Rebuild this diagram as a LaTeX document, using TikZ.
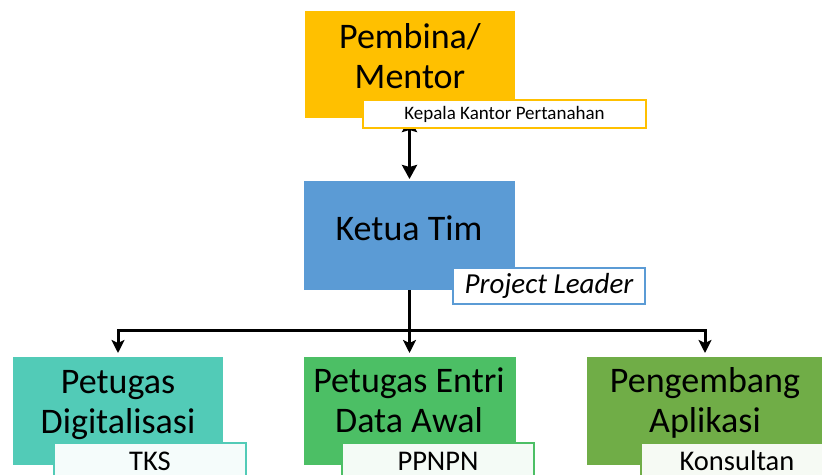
\documentclass[tikz,border=0pt]{standalone}
\usepackage{fontspec}
\setmainfont{Carlito}
\usetikzlibrary{arrows.meta}
\definecolor{cGold}{HTML}{FFC000}
\definecolor{cBlue}{HTML}{5B9BD5}
\definecolor{cTeal}{HTML}{52CBB7}
\definecolor{cGreen}{HTML}{4CBF65}
\definecolor{cOlive}{HTML}{70AD47}
\tikzset{
  box/.style={draw=none, inner sep=0pt, outer sep=0pt, anchor=north west},
  tag/.style={line width=2pt, inner xsep=0pt, outer sep=0pt, fill=white},
  btag/.style={tag, minimum width=192, inner ysep=0pt, text height=27pt, text depth=14pt, anchor=north, font=\fontsize{28.5}{32}\selectfont},
  bigtxt/.style={inner sep=0pt, anchor=base, align=center, font=\fontsize{36}{40}\selectfont},
  link/.style={line width=3pt, draw=black, -{Stealth[length=13pt,width=13pt,inset=3pt]}},
  dlink/.style={line width=3pt, draw=black, {Stealth[length=14pt,width=15pt,inset=2pt]}-{Stealth[length=14pt,width=15pt,inset=2pt]}}
}
\begin{document}
\begin{tikzpicture}[x=1pt,y=-1pt]
\clip (0,0) rectangle (822,474);
\fill[white] (0,0) rectangle (822,474);

% main boxes
\node[box, fill=cGold, minimum width=210, minimum height=107] (pembina) at (305,11) {};
\node[box, fill=cBlue, minimum width=211, minimum height=109] (ketua) at (304,181) {};
\node[box, fill=cTeal, minimum width=210, minimum height=108] (digi) at (13,357) {};
\node[box, fill=cGreen, minimum width=212, minimum height=108] (entri) at (303.5,357) {};
\node[box, fill=cOlive, minimum width=236, minimum height=108] (dev) at (587,357) {};

% box texts (anchor base = baseline of last line)
\node[bigtxt] (pembinaT) at (410,88) {Pembina/\\Mentor};
\node[bigtxt] (ketuaT) at (409,240) {Ketua Tim};
\node[bigtxt] (digiT) at (118,433) {Petugas\\Digitalisasi};
\node[bigtxt] (entriT) at (409,432) {Petugas Entri\\Data Awal};
\node[bigtxt] (devT) at (705,432) {Pengembang\\Aplikasi};

% connector between mentor and leader (its upper tip lies under the tag)
\draw[dlink, shorten >=2pt] (ketua.north |- pembina.south) -- (ketua.north);

% tags
\node[tag, draw=cGold, minimum width=283, minimum height=28, font=\fontsize{19}{23}\selectfont] (kepala) at (504.5,114) {Kepala Kantor Pertanahan};
\node[tag, draw=cBlue, minimum width=192, minimum height=36, font=\fontsize{29}{32}\selectfont\itshape] (pl) at (549,286) {Project Leader};
\node[btag, draw=cTeal, fill=cTeal!6] (tks) at (150,443) {TKS};
\node[btag, draw=cGreen, fill=cGreen!6] (ppnpn) at (438,443) {PPNPN};
\node[btag, draw=cOlive, fill=cOlive!6] (kons) at (737,443) {Konsultan};

% connectors to the team
\coordinate (jn) at (409.5,330);
\draw[link, shorten >=4pt] (ketua.south) -- (entri.north);
\draw[link, shorten >=4pt] (jn) -| (digi.north);
\draw[link, shorten >=4pt] (jn) -| (dev.north);
\end{tikzpicture}
\end{document}
